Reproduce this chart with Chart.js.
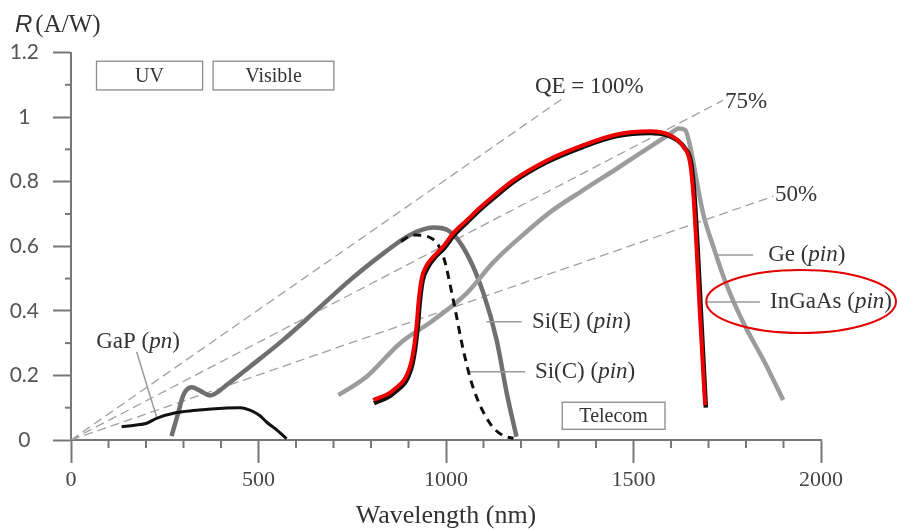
<!DOCTYPE html>
<html>
<head>
<meta charset="utf-8">
<script src="https://cdn.jsdelivr.net/npm/chart.js@4.4.1/dist/chart.umd.min.js"></script>
<style>
html, body { margin: 0; padding: 0; background: #fff; }
#wrap { width: 897px; height: 529px; }
</style>
</head>
<body>
<div id="wrap"><canvas id="myChart" width="897" height="529"></canvas></div>
<script>
// Responsivity R (A/W) against wavelength (nm)

var gapWl = [135, 170, 202, 228, 282, 326, 415, 451, 486, 504, 522, 550, 575];
var gapR = [0.041, 0.046, 0.052, 0.067, 0.085, 0.091, 0.099, 0.1, 0.088, 0.075, 0.055, 0.03, 0.004];

var siEWl = [268, 285, 300, 322, 345, 371, 420, 477, 566, 655, 744, 833, 904, 966, 1011, 1055, 1100, 1135, 1162, 1188];
var siER = [0.012, 0.08, 0.14, 0.163, 0.152, 0.138, 0.175, 0.227, 0.31, 0.402, 0.495, 0.578, 0.635, 0.658, 0.645, 0.578, 0.454, 0.31, 0.145, 0.01];

var siCWl = [880, 913, 962, 993, 1020, 1046, 1073, 1117, 1150, 1180];
var siCR = [0.615, 0.635, 0.624, 0.568, 0.43, 0.279, 0.16, 0.052, 0.015, 0.005];

var geWl = [713, 788, 877, 966, 1055, 1126, 1200, 1277, 1366, 1455, 1544, 1600, 1620, 1638, 1651, 1668, 1686, 1713, 1745, 1790, 1850, 1899];
var geR = [0.139, 0.196, 0.299, 0.371, 0.454, 0.55, 0.63, 0.705, 0.774, 0.84, 0.908, 0.95, 0.965, 0.96, 0.91, 0.805, 0.7, 0.598, 0.49, 0.37, 0.24, 0.124];

var ingaasWl = [806, 860, 904, 915, 922, 927, 935, 948, 966, 993, 1019, 1055, 1091, 1126, 1180, 1268, 1366, 1455, 1544, 1597, 1633, 1651, 1660, 1668, 1677, 1691];
var ingaasR = [0.124, 0.155, 0.227, 0.29, 0.36, 0.43, 0.5, 0.54, 0.567, 0.6, 0.64, 0.68, 0.72, 0.755, 0.805, 0.865, 0.913, 0.946, 0.956, 0.944, 0.908, 0.857, 0.753, 0.598, 0.392, 0.108];

// black trace lying just under the red one
var ingaasBkWl = [808, 862, 907, 918, 925, 930, 938, 951, 968, 995, 1021, 1056, 1092, 1127, 1181, 1268, 1366, 1455, 1544, 1598, 1636, 1654, 1663, 1671, 1680, 1693];
var ingaasBkR = [0.114, 0.147, 0.22, 0.285, 0.355, 0.425, 0.495, 0.533, 0.562, 0.594, 0.634, 0.674, 0.714, 0.749, 0.8, 0.86, 0.908, 0.941, 0.951, 0.94, 0.905, 0.855, 0.75, 0.596, 0.39, 0.1];

// quantum efficiency reference lines (start, end)
var qe100Wl = [0, 1313];
var qe100R = [0, 1.059];
var qe75Wl = [0, 1739];
var qe75R = [0, 1.052];
var qe50Wl = [0, 1873];
var qe50R = [0, 0.755];

var xTickLabels = ['0', '500', '1000', '1500', '2000'];
var yTickLabels = ['0', '0.2', '0.4', '0.6', '0.8', '1', '1.2'];
var xMinor = [100, 200, 300, 400, 600, 700, 800, 900, 1100, 1200, 1300, 1400, 1600, 1700, 1800, 1900];
var yMinor = [0.1, 0.3, 0.5, 0.7, 0.9, 1.1];

function pts(wl, r) {
	return wl.map(function (w, i) { return {x: w, y: r[i]}; });
}

var serif = '"Liberation Serif", "Times New Roman", serif';

// text labels: [x (nm), y (A/W), parts [text, italic]]
var labels = [
	[67, 0.303, [['GaP (', 0], ['pn', 1], [')', 0]]],
	[1229, 0.365, [['Si(E) (', 0], ['pin', 1], [')', 0]]],
	[1237, 0.211, [['Si(C) (', 0], ['pin', 1], [')', 0]]],
	[1859, 0.573, [['Ge (', 0], ['pin', 1], [')', 0]]],
	[1864, 0.427, [['InGaAs (', 0], ['pin', 1], [')', 0]]],
	[1237, 1.094, [['QE = 100%', 0]]],
	[1744, 1.047, [['75%', 0]]],
	[1877, 0.758, [['50%', 0]]]
];

// leader lines from labels to curves
var leaders = [
	[175, 0.273, 228, 0.072],
	[1108, 0.366, 1202, 0.366],
	[1064, 0.211, 1211, 0.211],
	[1717, 0.573, 1819, 0.573],
	[1695, 0.427, 1837, 0.427]
];

// spectral band boxes
var boxes = [
	['UV', 68, 1.173, 351, 1.084],
	['Visible', 379, 1.173, 701, 1.084],
	['Telecom', 1310, 0.117, 1584, 0.033]
];

var notes = {
	id: 'notes',
	afterDatasetsDraw: function (chart) {
		var ctx = chart.ctx, xs = chart.scales.x, ys = chart.scales.y;
		function px(v) { return xs.getPixelForValue(v); }
		function py(v) { return ys.getPixelForValue(v); }
		ctx.save();

		//Leader lines
		ctx.strokeStyle = '#9a9a9a';
		ctx.lineWidth = 1.5;
		leaders.forEach(function (l) {
			ctx.beginPath();
			ctx.moveTo(px(l[0]), py(l[1]));
			ctx.lineTo(px(l[2]), py(l[3]));
			ctx.stroke();
		});

		//Labels with italic parts
		ctx.fillStyle = '#333';
		ctx.textBaseline = 'middle';
		ctx.textAlign = 'left';
		labels.forEach(function (lb) {
			var x = px(lb[0]), y = py(lb[1]);
			lb[2].forEach(function (p) {
				ctx.font = (p[1] ? 'italic ' : '') + '23px ' + serif;
				ctx.fillText(p[0], x, y);
				x += ctx.measureText(p[0]).width;
			});
		});

		//Boxes
		ctx.strokeStyle = '#8a8a8a';
		ctx.lineWidth = 1.3;
		ctx.textAlign = 'center';
		ctx.font = '20px ' + serif;
		boxes.forEach(function (b) {
			var x1 = px(b[1]), y1 = py(b[2]), x2 = px(b[3]), y2 = py(b[4]);
			ctx.strokeRect(x1, y1, x2 - x1, y2 - y1);
			ctx.fillStyle = '#333';
			ctx.fillText(b[0], (x1 + x2) / 2, (y1 + y2) / 2 + 1);
		});

		//Red ellipse round the InGaAs label
		var cx = px(1947), cy = py(0.429);
		ctx.strokeStyle = '#e30000';
		ctx.lineWidth = 2;
		ctx.beginPath();
		ctx.ellipse(cx, cy, px(1947 + 253) - cx, cy - py(0.429 + 0.0975), 0, 0, 2 * Math.PI);
		ctx.stroke();

		//Minor ticks
		ctx.strokeStyle = '#777';
		ctx.lineWidth = 2;
		xMinor.forEach(function (v) {
			ctx.beginPath();
			ctx.moveTo(px(v), chart.chartArea.bottom);
			ctx.lineTo(px(v), chart.chartArea.bottom + 8);
			ctx.stroke();
		});
		yMinor.forEach(function (v) {
			ctx.beginPath();
			ctx.moveTo(chart.chartArea.left - 6, py(v));
			ctx.lineTo(chart.chartArea.left, py(v));
			ctx.stroke();
		});

		//Y axis title
		ctx.textAlign = 'left';
		ctx.textBaseline = 'alphabetic';
		ctx.fillStyle = '#333';
		ctx.font = 'italic 24px "Liberation Sans", Arial, sans-serif';
		ctx.fillText('R', 15, 32);
		var w = ctx.measureText('R').width;
		ctx.font = '25px ' + serif;
		ctx.fillText('(A/W)', 15 + w + 3, 32);

		ctx.restore();
	}
};

var ctx = document.getElementById('myChart');
var myChart = new Chart(ctx, {
	type: 'line',
	data: {
		datasets: [
			{data: pts(ingaasWl, ingaasR), borderColor: '#ee0000', borderWidth: 4},
			{data: pts(ingaasBkWl, ingaasBkR), borderColor: '#111', borderWidth: 4.5},
			{data: pts(siCWl, siCR), borderColor: '#111', borderWidth: 3, borderDash: [8, 6]},
			{data: pts(gapWl, gapR), borderColor: '#111', borderWidth: 3},
			{data: pts(geWl, geR), borderColor: '#9c9c9c', borderWidth: 4.5},
			{data: pts(siEWl, siER), borderColor: '#6f6f6f', borderWidth: 4.5},
			{data: pts(qe100Wl, qe100R), borderColor: '#a0a0a0', borderWidth: 1.3, borderDash: [9, 5]},
			{data: pts(qe75Wl, qe75R), borderColor: '#a0a0a0', borderWidth: 1.3, borderDash: [9, 5]},
			{data: pts(qe50Wl, qe50R), borderColor: '#a0a0a0', borderWidth: 1.3, borderDash: [9, 5]}
		]
	},
	options: {
		responsive: false,
		animation: false,
		devicePixelRatio: 1,
		elements: {
			point: {radius: 0},
			line: {cubicInterpolationMode: 'monotone', fill: false}
		},
		layout: {padding: {top: 52.5, right: 76, left: 0, bottom: 0}},
		plugins: {legend: {display: false}, tooltip: {enabled: false}},
		scales: {
			x: {
				type: 'linear',
				min: 0,
				max: 2000,
				afterFit: function (s) { s.height = 89; },
				border: {display: true, color: '#777', width: 2},
				grid: {drawOnChartArea: false, tickLength: 23, tickColor: '#777', tickWidth: 2},
				ticks: {
					stepSize: 500,
					padding: 4,
					color: '#444',
					font: {family: serif, size: 22},
					callback: function (v, i) { return xTickLabels[i]; }
				},
				title: {
					display: true,
					text: 'Wavelength (nm)',
					color: '#333',
					font: {family: serif, size: 26, lineHeight: 1},
					padding: {top: 0, bottom: 0}
				}
			},
			y: {
				min: 0,
				max: 1.2,
				afterFit: function (s) { s.width = 71; },
				border: {display: true, color: '#777', width: 2},
				grid: {drawOnChartArea: false, tickLength: 18, tickColor: '#777', tickWidth: 2},
				ticks: {
					stepSize: 0.2,
					padding: 14,
					crossAlign: 'center',
					color: '#555',
					font: {family: 'Lato, "Open Sans", sans-serif', size: 21},
					callback: function (v, i) { return yTickLabels[i]; }
				}
			}
		}
	},
	plugins: [notes]
});
</script>
</body>
</html>
